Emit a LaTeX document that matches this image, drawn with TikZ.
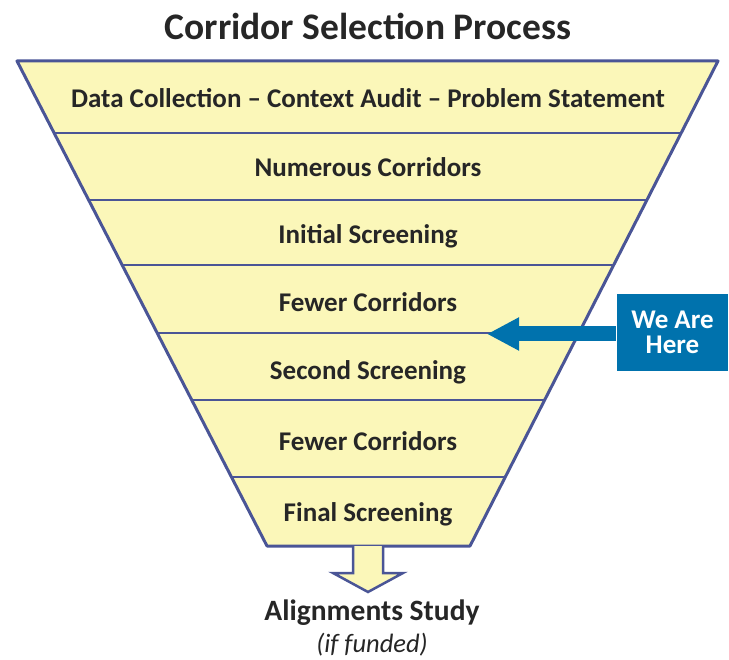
\documentclass[tikz,border=0pt]{standalone}
\usepackage{fontspec}
\setmainfont{Carlito}
\usetikzlibrary{calc,arrows.meta}
\definecolor{funnel}{HTML}{FBF7B9}
\definecolor{edge}{HTML}{4A5596}
\definecolor{here}{HTML}{0072AD}
\begin{document}
\begin{tikzpicture}[x=1pt, y=-1pt, line width = 3pt, draw = edge,
  band/.style = {font=\fontsize{27}{29}\selectfont\bfseries, text=black!85}]
			\useasboundingbox (0,0) rectangle (729,660);
			\node[font=\fontsize{37.5}{40}\selectfont\bfseries, text=black!85] (title) at (368,26) {Corridor Selection Process};
			% funnel
			\coordinate (tl) at (17,61);
			\coordinate (tr) at (718,61);
			\coordinate (bl) at (267,546);
			\coordinate (br) at (470,546);
			\filldraw [fill = funnel, line join = round] (tl) -- (tr) -- (br) -- (bl) -- cycle;
			\foreach \y in {133,200,265,333,400,477}
				\draw [line width = 2pt] ($(tl)!{(\y-61)/485}!(bl)$) -- ($(tr)!{(\y-61)/485}!(br)$);
			\node[band] (b1) at (368,98) {Data Collection -- Context Audit -- Problem Statement};
			\node[band] (b2) at (368,167) {Numerous Corridors};
			\node[band] (b3) at (368,236) {Initial Screening};
			\node[band] (b4) at (368,302) {Fewer Corridors};
			\node[band] (b5) at (368,372) {Second Screening};
			\node[band] (b6) at (368,441) {Fewer Corridors};
			\node[band] (b7) at (368,514) {Final Screening};
			% arrow down
			\coordinate (sl) at (353,546);
			\coordinate (sr) at (383,546);
			\filldraw [fill = funnel, line width = 2.5pt, line join = miter] (sl) -- (353,573) -- (333,573) -- (368,592) -- (403,573) -- (383,573) -- (sr);
			\node[font=\fontsize{29.5}{32}\selectfont\bfseries, text=black!85] (study) at (372,613) {Alignments Study};
			\node[font=\fontsize{26.5}{28}\selectfont\itshape, text=black!85] (funded) at (372,645) {(if funded)};
			% we are here
			\node[fill = here, text = white, font=\fontsize{27}{25}\selectfont\bfseries, align = center,
				minimum width = 111pt, minimum height = 77pt, inner sep = 0pt] (wah) at (672.5,332.5) {We Are\\Here};
			\coordinate (tip) at (487,334);
			\draw [here, line width = 15pt, -{Triangle[length=32pt, width=31pt]}] (wah.west |- tip) -- (tip);
\end{tikzpicture}
\end{document}
